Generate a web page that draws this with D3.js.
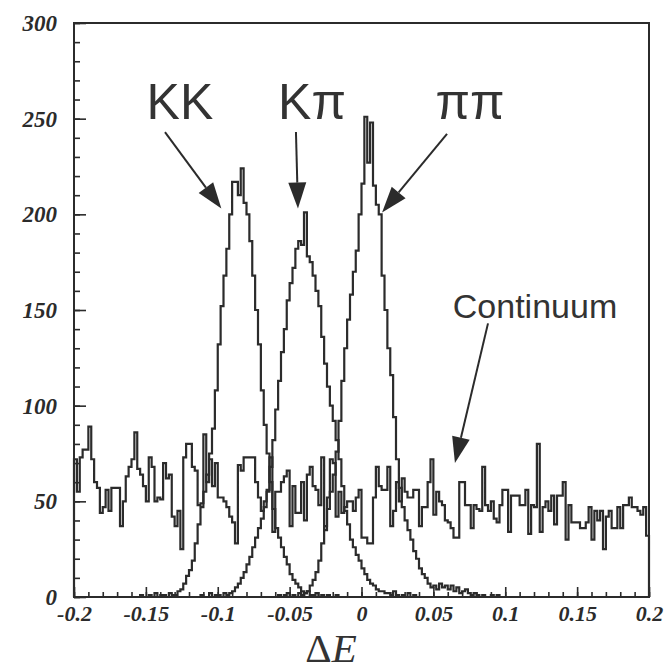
<!DOCTYPE html>
<html>
<head>
<meta charset="utf-8">
<script src="https://cdn.jsdelivr.net/npm/d3@7"></script>
<style>
  body { margin: 0; background: #fff; }
  .tick text { font-family: "Liberation Serif", serif; font-weight: bold; font-style: italic; font-size: 23px; fill: #2b2b2b; }
  .xax .tick text { font-size: 22px; }
  .tick line { stroke: #2b2b2b; stroke-width: 1.6; }
</style>
</head>
<body>
<svg id="chart" width="666" height="672"></svg>
<script>
// histogram bin width in ΔE
const binWidth = 0.002;

// continuum background, 200 bins from -0.2
const continuumStart = -0.2;
const continuum = [
  72,55,73,77,77,89,72,60,57,44,
  47,56,45,57,57,57,37,50,63,68,
  72,86,67,64,58,50,73,68,50,52,
  51,70,62,64,42,37,45,25,73,80,
  80,68,66,48,49,85,60,72,58,70,
  52,52,50,47,42,39,28,69,66,73,
  73,73,73,60,52,45,50,55,73,34,
  55,55,60,63,66,37,58,44,44,60,
  40,64,68,58,56,48,73,35,52,72,
  70,42,55,44,47,50,50,45,52,56,
  31,31,28,28,52,68,58,56,56,68,
  37,45,60,50,62,55,52,52,56,56,
  37,47,47,60,72,43,55,50,48,40,
  39,36,31,31,60,60,48,48,36,48,
  46,45,68,48,45,50,41,39,48,56,
  56,34,53,53,53,48,48,56,33,48,
  47,80,34,47,50,45,53,38,53,53,
  60,30,48,39,39,39,36,36,39,47,
  30,45,40,45,25,42,45,36,36,47,
  36,48,48,52,47,47,45,43,47,32
];

// B -> KK signal
const kkStart = -0.156;
const kk = [
  0,1,0,0,1,0,2,0,1,1,0,2,
  1,1,3,4,7,11,14,19,28,38,
  47,55,64,75,88,108,132,152,168,182,
  200,217,217,210,224,206,200,186,168,150,
  132,108,90,75,60,46,36,31,26,21,
  17,12,9,7,5,3,2,3,1,
  1,2,0,1,0,1,0,0,1,0
];

// B -> Kpi signal
const kpiStart = -0.112;
const kpi = [
  1,0,0,2,0,1,1,0,2,1,
  2,3,5,7,10,13,17,21,26,31,
  36,41,47,56,68,82,98,113,128,140,
  155,164,172,182,186,184,201,178,175,168,
  160,152,136,122,110,100,92,82,72,58,
  45,38,30,26,22,19,15,12,9,7,
  6,4,3,3,2,
  2,1,3,1,0,1,0,2,0,1,0,0
];

// B -> pipi signal
const pipiStart = -0.06;
const pipi = [
  0,1,0,1,2,0,1,0,2,1,
  2,3,6,9,13,19,28,37,46,55,
  64,76,92,113,130,145,158,170,181,200,
  216,251,227,248,215,205,200,168,150,130,
  116,94,72,57,47,40,35,30,24,20,
  15,12,10,7,5,6,4,7,5,6,
  4,6,3,5,2,3,4,2,1,2,1,0,1,0,0,1,0,1,0
];

const xTicks = [-0.2, -0.15, -0.1, -0.05, 0, 0.05, 0.1, 0.15, 0.2];
const xTickLabels = ["-0.2", "-0.15", "-0.1", "-0.05", "0", "0.05", "0.1", "0.15", "0.2"];
const yTicks = [0, 50, 100, 150, 200, 250, 300];

// labels and arrows, in data units (ΔE, entries)
const labels = [
  {text: "KK", u: -0.1263, v: 250, size: 50},
  {text: "K\u03c0", u: -0.0344, v: 250, size: 50},
  {text: "\u03c0\u03c0", u: 0.0755, v: 250, size: 50},
  {text: "Continuum", u: 0.1207, v: 146, size: 34}
];
const arrows = [
  {u0: -0.1367, v0: 243, u1: -0.0975, v1: 203},
  {u0: -0.0456, v0: 243, u1: -0.0442, v1: 203},
  {u0: 0.0595, v0: 242, u1: 0.0143, v1: 201},
  {u0: 0.0880, v0: 143, u1: 0.0650, v1: 70}
];

const ink = "#2b2b2b";
const svg = d3.select("#chart");
const plotL = 74, plotR = 649, plotT = 23, plotB = 597;

const x = d3.scaleLinear().domain([-0.2, 0.2]).range([plotL, plotR]);
const y = d3.scaleLinear().domain([0, 300]).range([plotB, plotT]);

// minor ticks (inward)
svg.append("g").attr("transform", `translate(0,${plotB})`)
  .call(d3.axisBottom(x).tickValues(d3.range(-20, 21).map(d => d / 100)).tickSize(-5).tickFormat(""))
  .call(g => g.select(".domain").remove());
svg.append("g").attr("transform", `translate(${plotL},0)`)
  .call(d3.axisLeft(y).tickValues(d3.range(0, 301, 10)).tickSize(-6).tickFormat(""))
  .call(g => g.select(".domain").remove());

// major ticks + labels
svg.append("g").attr("class", "xax").attr("transform", `translate(0,${plotB})`)
  .call(d3.axisBottom(x).tickValues(xTicks).tickSize(-10).tickPadding(8)
    .tickFormat((d, i) => xTickLabels[i]))
  .call(g => g.select(".domain").remove());
svg.append("g").attr("transform", `translate(${plotL},0)`)
  .call(d3.axisLeft(y).tickValues(yTicks).tickSize(-12).tickPadding(17))
  .call(g => g.select(".domain").remove());

// histograms
function histPoints(start, values) {
  const pts = [[start, 0]];
  values.forEach((v, i) => pts.push([start + i * binWidth, v]));
  pts.push([start + values.length * binWidth, values[values.length - 1]]);
  pts.push([start + values.length * binWidth, 0]);
  return pts;
}
const line = d3.line().x(d => x(d[0])).y(d => y(d[1])).curve(d3.curveStepAfter);

const series = [
  [continuumStart, continuum],
  [kkStart, kk],
  [kpiStart, kpi],
  [pipiStart, pipi]
];
svg.append("g").selectAll("path")
  .data(series)
  .join("path")
  .attr("d", d => line(histPoints(d[0], d[1])))
  .attr("fill", "none")
  .attr("stroke", ink)
  .attr("stroke-width", 2.2)
  .attr("stroke-linejoin", "miter");

// frame
svg.append("rect")
  .attr("x", plotL).attr("y", plotT)
  .attr("width", plotR - plotL).attr("height", plotB - plotT)
  .attr("fill", "none").attr("stroke", ink).attr("stroke-width", 2);

// annotation labels
svg.append("g").selectAll("text")
  .data(labels)
  .join("text")
  .attr("x", d => x(d.u)).attr("y", d => y(d.v))
  .attr("text-anchor", "middle")
  .attr("font-family", "'Liberation Sans', Arial, sans-serif")
  .attr("font-size", d => d.size)
  .attr("fill", "#333")
  .text(d => d.text);

// arrows
const ag = svg.append("g");
arrows.forEach(a => {
  const x0 = x(a.u0), y0 = y(a.v0), x1 = x(a.u1), y1 = y(a.v1);
  const len = Math.hypot(x1 - x0, y1 - y0);
  const ux = (x1 - x0) / len, uy = (y1 - y0) / len;
  const headLen = 26, headW = 9;
  const bx = x1 - ux * headLen, by = y1 - uy * headLen;
  ag.append("line")
    .attr("x1", x0).attr("y1", y0).attr("x2", bx).attr("y2", by)
    .attr("stroke", ink).attr("stroke-width", 2);
  ag.append("path")
    .attr("d", `M${x1},${y1}L${bx - uy * headW},${by + ux * headW}L${bx + uy * headW},${by - ux * headW}Z`)
    .attr("fill", ink);
});

// x axis title
const title = svg.append("text")
  .attr("x", 331).attr("y", 662)
  .attr("text-anchor", "middle")
  .attr("font-family", "'Liberation Serif', 'Times New Roman', serif")
  .attr("font-size", 41)
  .attr("fill", "#333");
title.append("tspan").text("\u0394");
title.append("tspan").attr("font-style", "italic").text("E");
</script>
</body>
</html>
